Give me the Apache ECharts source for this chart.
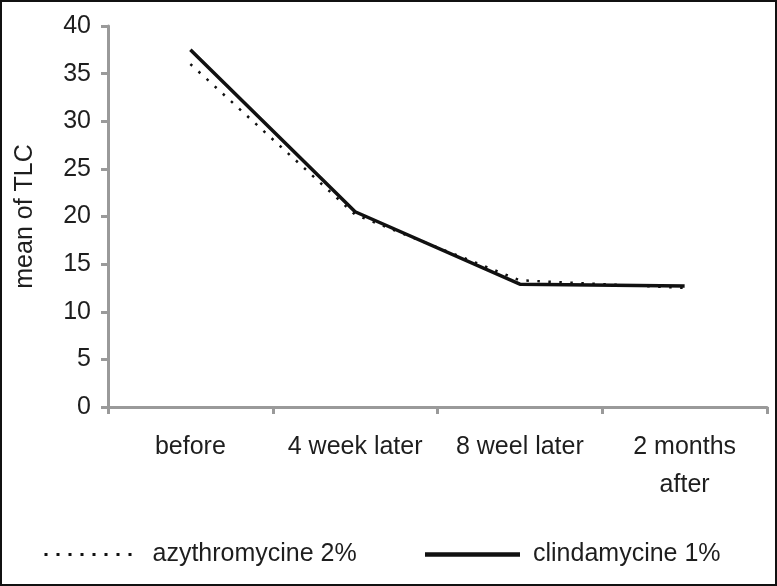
<!DOCTYPE html>
<html><head><meta charset="utf-8">
<script src="https://cdn.jsdelivr.net/npm/echarts@6/dist/echarts.min.js"></script>
<style>html,body{margin:0;padding:0;background:#fff}#c{width:777px;height:586px}</style>
</head><body><div id="c"></div>
<script>
const categories = ['before', '4 week later', '8 weel later', '2 months\nafter'];
const azythromycine = [36.0, 20.2, 13.3, 12.5];
const clindamycine = [37.5, 20.5, 12.9, 12.7];
const yTicks = {min: 0, max: 40, interval: 5};

const chart = echarts.init(document.getElementById('c'));
const txt = '#1e1e1e';
const axisGray = '#9a9a9a';
const font = 'Liberation Sans, Arial, sans-serif';
chart.setOption({
  animation: false,
  graphic: [{type: 'rect', shape: {x: 1, y: 1, width: 775, height: 584}, style: {fill: 'none', stroke: '#111', lineWidth: 2}, silent: true}],
  grid: {left: 108, right: 10, top: 26, bottom: 179},
  legend: {
    left: 38, top: 537, itemWidth: 95, itemHeight: 14, itemGap: 66,
    itemStyle: {opacity: 0},
    textStyle: {fontSize: 25, color: txt, fontFamily: font, padding: [0, 0, 0, 8]},
    data: [
      {name: 'azythromycine 2%', lineStyle: {width: 3, type: [3, 9], color: '#111'}},
      {name: 'clindamycine 1%', lineStyle: {width: 4.5, type: 'solid', color: '#111'}}
    ]
  },
  xAxis: {
    type: 'category', data: categories, boundaryGap: true,
    axisLine: {lineStyle: {color: axisGray, width: 3}},
    axisTick: {show: true, length: 7, lineStyle: {color: axisGray, width: 3}},
    axisLabel: {fontSize: 25, color: txt, fontFamily: font, margin: 21, lineHeight: 38, interval: 0},
    splitLine: {show: false}
  },
  yAxis: {
    type: 'value', min: yTicks.min, max: yTicks.max, interval: yTicks.interval,
    name: 'mean of TLC', nameLocation: 'middle', nameGap: 70, nameRotate: 90,
    nameTextStyle: {fontSize: 25, color: txt, fontFamily: font},
    axisLine: {show: true, lineStyle: {color: axisGray, width: 3}},
    axisTick: {show: true, length: 7, lineStyle: {color: axisGray, width: 3}},
    axisLabel: {fontSize: 25, color: txt, fontFamily: font, margin: 17},
    splitLine: {show: false}
  },
  series: [
    {name: 'azythromycine 2%', type: 'line', data: azythromycine, symbol: 'none',
     lineStyle: {color: '#111', width: 2.5, type: [2.5, 8.5], cap: 'butt'}, itemStyle: {color: '#111'}},
    {name: 'clindamycine 1%', type: 'line', data: clindamycine, symbol: 'none',
     lineStyle: {color: '#111', width: 3.5, type: 'solid'}, itemStyle: {color: '#111'}}
  ]
});
</script></body></html>
